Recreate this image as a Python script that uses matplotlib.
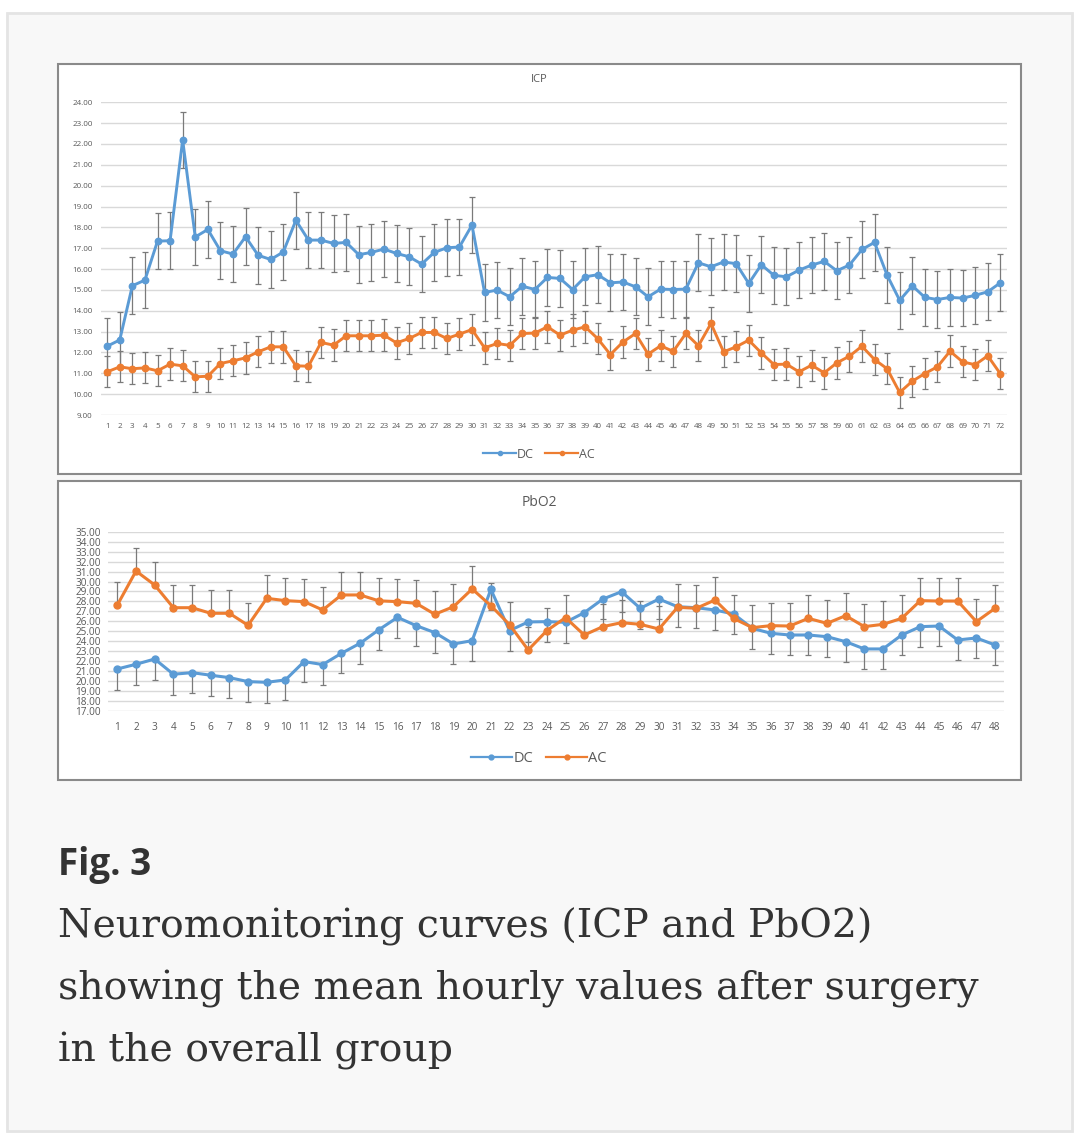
import matplotlib.pyplot as plt
from matplotlib.patches import Rectangle
from matplotlib.lines import Line2D

# ICP hourly means (72 h)
icp_hours = list(range(1, 73))
icp_dc = [12.30, 12.60, 15.20, 15.47, 17.34, 17.36, 22.19, 17.54, 17.90, 16.88,
          16.72, 17.55, 16.66, 16.46, 16.82, 18.34, 17.39, 17.39, 17.23, 17.28,
          16.69, 16.80, 16.96, 16.75, 16.59, 16.24, 16.80, 17.02, 17.06, 18.11,
          14.88, 14.99, 14.67, 15.18, 15.02, 15.60, 15.55, 15.02, 15.63, 15.73,
          15.34, 15.38, 15.15, 14.67, 15.04, 15.02, 15.04, 16.30, 16.11, 16.34,
          16.26, 15.31, 16.21, 15.70, 15.63, 15.95, 16.19, 16.37, 15.92, 16.19,
          16.94, 17.28, 15.71, 14.50, 15.20, 14.64, 14.54, 14.64, 14.61, 14.74,
          14.91, 15.34]
icp_ac = [11.07, 11.31, 11.22, 11.26, 11.12, 11.44, 11.36, 10.83, 10.86, 11.47,
          11.60, 11.74, 12.03, 12.27, 12.27, 11.36, 11.34, 12.48, 12.35, 12.80,
          12.80, 12.80, 12.83, 12.46, 12.67, 12.96, 12.96, 12.67, 12.88, 13.10,
          12.22, 12.43, 12.34, 12.91, 12.93, 13.23, 12.83, 13.07, 13.23, 12.66,
          11.90, 12.50, 12.91, 11.92, 12.32, 12.05, 12.91, 12.32, 13.39, 12.03,
          12.27, 12.59, 11.98, 11.42, 11.44, 11.07, 11.39, 11.02, 11.50, 11.82,
          12.30, 11.66, 11.22, 10.08, 10.62, 10.99, 11.31, 12.06, 11.55, 11.41,
          11.84, 10.98]
icp_dc_err = [1.36, 1.36, 1.36, 1.36, 1.36, 1.38, 1.36, 1.36, 1.36, 1.36,
              1.36, 1.36, 1.36, 1.36, 1.36, 1.37, 1.36, 1.36, 1.36, 1.36,
              1.36, 1.36, 1.36, 1.36, 1.36, 1.36, 1.36, 1.36, 1.36, 1.33,
              1.36, 1.36, 1.36, 1.36, 1.36, 1.36, 1.36, 1.36, 1.36, 1.36,
              1.36, 1.36, 1.36, 1.36, 1.36, 1.36, 1.36, 1.36, 1.36, 1.36,
              1.36, 1.36, 1.36, 1.36, 1.36, 1.36, 1.36, 1.36, 1.36, 1.36,
              1.36, 1.36, 1.36, 1.36, 1.36, 1.36, 1.36, 1.36, 1.36, 1.36,
              1.36, 1.36]
icp_ac_err = [0.74, 0.74, 0.74, 0.74, 0.74, 0.75, 0.75, 0.75, 0.75, 0.75,
              0.75, 0.75, 0.75, 0.76, 0.76, 0.75, 0.75, 0.76, 0.76, 0.75,
              0.75, 0.75, 0.76, 0.75, 0.75, 0.76, 0.76, 0.75, 0.76, 0.76,
              0.75, 0.75, 0.75, 0.76, 0.76, 0.77, 0.75, 0.76, 0.77, 0.75,
              0.75, 0.75, 0.76, 0.75, 0.75, 0.75, 0.76, 0.75, 0.77, 0.75,
              0.75, 0.75, 0.75, 0.75, 0.75, 0.75, 0.75, 0.75, 0.75, 0.75,
              0.76, 0.75, 0.75, 0.75, 0.75, 0.75, 0.75, 0.76, 0.75, 0.75,
              0.75, 0.75]

# PbO2 hourly means (48 h)
pbo2_hours = list(range(1, 49))
pbo2_dc = [21.22, 21.69, 22.22, 20.69, 20.85, 20.59, 20.35, 19.95, 19.88, 20.12,
           21.96, 21.66, 22.79, 23.80, 25.15, 26.40, 25.57, 24.87, 23.73, 24.06,
           29.21, 25.07, 25.94, 25.97, 25.90, 26.87, 28.24, 28.98, 27.31, 28.24,
           27.47, 27.37, 27.14, 26.74, 25.30, 24.80, 24.63, 24.63, 24.46, 23.96,
           23.23, 23.23, 24.63, 25.47, 25.53, 24.13, 24.33, 23.63]
pbo2_ac = [27.64, 31.05, 29.65, 27.37, 27.37, 26.81, 26.81, 25.60, 28.31, 28.08,
           27.98, 27.14, 28.65, 28.65, 28.06, 27.98, 27.81, 26.71, 27.47, 29.25,
           27.58, 25.67, 23.13, 25.07, 26.37, 24.63, 25.47, 25.87, 25.70, 25.23,
           27.41, 27.31, 28.14, 26.30, 25.37, 25.57, 25.53, 26.30, 25.80, 26.57,
           25.47, 25.70, 26.30, 28.08, 28.04, 28.04, 25.97, 27.31]
pbo2_dc_err = [2.08, 2.08, 2.08, 2.05, 2.05, 2.05, 2.05, 2.05, 2.05, 2.05,
               2.05, 2.05, 2.02, 2.05, 2.05, 2.05, 2.05, 2.05, 2.05, 2.05,
               2.05, 2.05, 2.05, 2.05, 2.05, 2.05, 2.05, 2.05, 2.05, 2.05,
               2.05, 2.05, 2.05, 2.05, 2.05, 2.05, 2.05, 2.05, 2.05, 2.05,
               2.04, 2.04, 2.05, 2.05, 2.05, 2.05, 2.05, 2.05]
pbo2_ac_err = [2.30, 2.28, 2.30, 2.30, 2.30, 2.30, 2.30, 2.28, 2.30, 2.30,
               2.30, 2.30, 2.30, 2.30, 2.30, 2.30, 2.30, 2.30, 2.30, 2.30,
               2.30, 2.30, 2.30, 2.30, 2.30, 2.30, 2.30, 2.30, 2.30, 2.30,
               2.30, 2.30, 2.30, 2.30, 2.30, 2.30, 2.30, 2.30, 2.30, 2.30,
               2.30, 2.30, 2.30, 2.24, 2.30, 2.30, 2.30, 2.30]

BLUE = '#5b9bd5'
ORANGE = '#ed7d31'
TXT = '#595959'

W, H = 1080, 1141
fig = plt.figure(figsize=(W / 100, H / 100), dpi=100)
fig.patch.set_facecolor('white')


def fx(x):
    return x / W


def fy(y):
    return 1 - y / H


def box(x0, y0, x1, y1, fc, ec, lw):
    fig.patches.append(Rectangle((fx(x0), fy(y1)), fx(x1) - fx(x0), fy(y0) - fy(y1),
                                 transform=fig.transFigure, facecolor=fc,
                                 edgecolor=ec, linewidth=lw, zorder=-10))


def axes_px(x0, y0, x1, y1):
    return fig.add_axes([fx(x0), fy(y1), fx(x1) - fx(x0), fy(y0) - fy(y1)])


# page card + chart frames
box(7, 13, 1072, 1131, '#f8f8f8', '#e4e4e4', 2.0)
box(58, 64, 1021, 474, 'white', '#8a8a8a', 1.5)
box(58, 481, 1021, 780, 'white', '#8a8a8a', 1.5)


def draw_panel(ax, x, dc, ac, dc_err, ac_err, ylo, yhi, fs, lw, ms, pbo2=False):
    ax.set_facecolor('none')
    zeros = [0] * len(x)
    if pbo2:
        dc_yerr = [dc_err, zeros]
        ac_yerr = [zeros, ac_err]
    else:
        dc_yerr = dc_err
        ac_yerr = ac_err
    ax.errorbar(x, dc, yerr=dc_yerr, fmt='none', ecolor='#7a7a7a', elinewidth=0.9,
                capsize=2, capthick=0.9, zorder=2)
    ax.errorbar(x, ac, yerr=ac_yerr, fmt='none', ecolor='#7a7a7a', elinewidth=0.9,
                capsize=2, capthick=0.9, zorder=2)
    ax.plot(x, dc, color=BLUE, lw=lw, marker='o', ms=ms, zorder=3)
    ax.plot(x, ac, color=ORANGE, lw=lw, marker='o', ms=ms, zorder=3)
    ax.set_xlim(0.5, len(x) + 0.5)
    ax.set_ylim(ylo, yhi)
    ax.set_yticks(range(ylo, yhi + 1))
    ax.set_yticklabels([f'{v:.2f}' for v in range(ylo, yhi + 1)])
    ax.set_xticks(x)
    ax.set_xticklabels([str(v) for v in x])
    ax.grid(axis='y', color='#d9d9d9', linewidth=1.0, zorder=0)
    ax.set_axisbelow(True)
    for s in ax.spines.values():
        s.set_visible(False)
    ax.tick_params(length=0, labelsize=fs, labelcolor=TXT)
    for lab in ax.get_xticklabels() + ax.get_yticklabels():
        lab.set_fontfamily('Open Sans')


ax1 = axes_px(100.9, 102.3, 1006.6, 415)
draw_panel(ax1, icp_hours, icp_dc, icp_ac, icp_dc_err, icp_ac_err, 9, 24, 5.8, 2.1, 4.6)
ax1.tick_params(axis='y', pad=6)
ax1.tick_params(axis='x', pad=6)
fig.text(fx(539), fy(80), 'ICP', ha='center', va='center', fontsize=8,
         color=TXT, family='Open Sans')

ax2 = axes_px(108, 531.7, 1004.4, 711)
draw_panel(ax2, pbo2_hours, pbo2_dc, pbo2_ac, pbo2_dc_err, pbo2_ac_err, 17, 35, 7.2, 2.2, 5.0,
           pbo2=True)
ax2.tick_params(axis='y', pad=5)
ax2.tick_params(axis='x', pad=8)
fig.text(fx(539), fy(503), 'PbO2', ha='center', va='center', fontsize=10,
         color=TXT, family='Open Sans')


def legend_at(y, fs, ms, hl):
    handles = [Line2D([], [], color=BLUE, lw=1.6, marker='o', ms=ms),
               Line2D([], [], color=ORANGE, lw=1.6, marker='o', ms=ms)]
    fig.legend(handles, ['DC', 'AC'], loc='center', bbox_to_anchor=(fx(539), fy(y)),
               ncol=2, frameon=False, handlelength=hl, handletextpad=0.1,
               columnspacing=0.9, prop={'family': 'Open Sans', 'size': fs},
               labelcolor=TXT)


legend_at(454, 9, 3, 2.6)
legend_at(759, 10.5, 3.5, 2.8)

# caption
fig.text(fx(58), fy(875), 'Fig. 3', ha='left', va='baseline', fontsize=26.5,
         fontweight='bold', color='#333333', family='Open Sans')
caption = ['Neuromonitoring curves (ICP and PbO2)',
           'showing the mean hourly values after surgery',
           'in the overall group']
for i, line in enumerate(caption):
    fig.text(fx(58), fy(938 + 62 * i), line, ha='left', va='baseline', fontsize=28.4,
             color='#333333', family='DejaVu Serif')

fig.savefig('out.png', dpi=100, facecolor='white')
